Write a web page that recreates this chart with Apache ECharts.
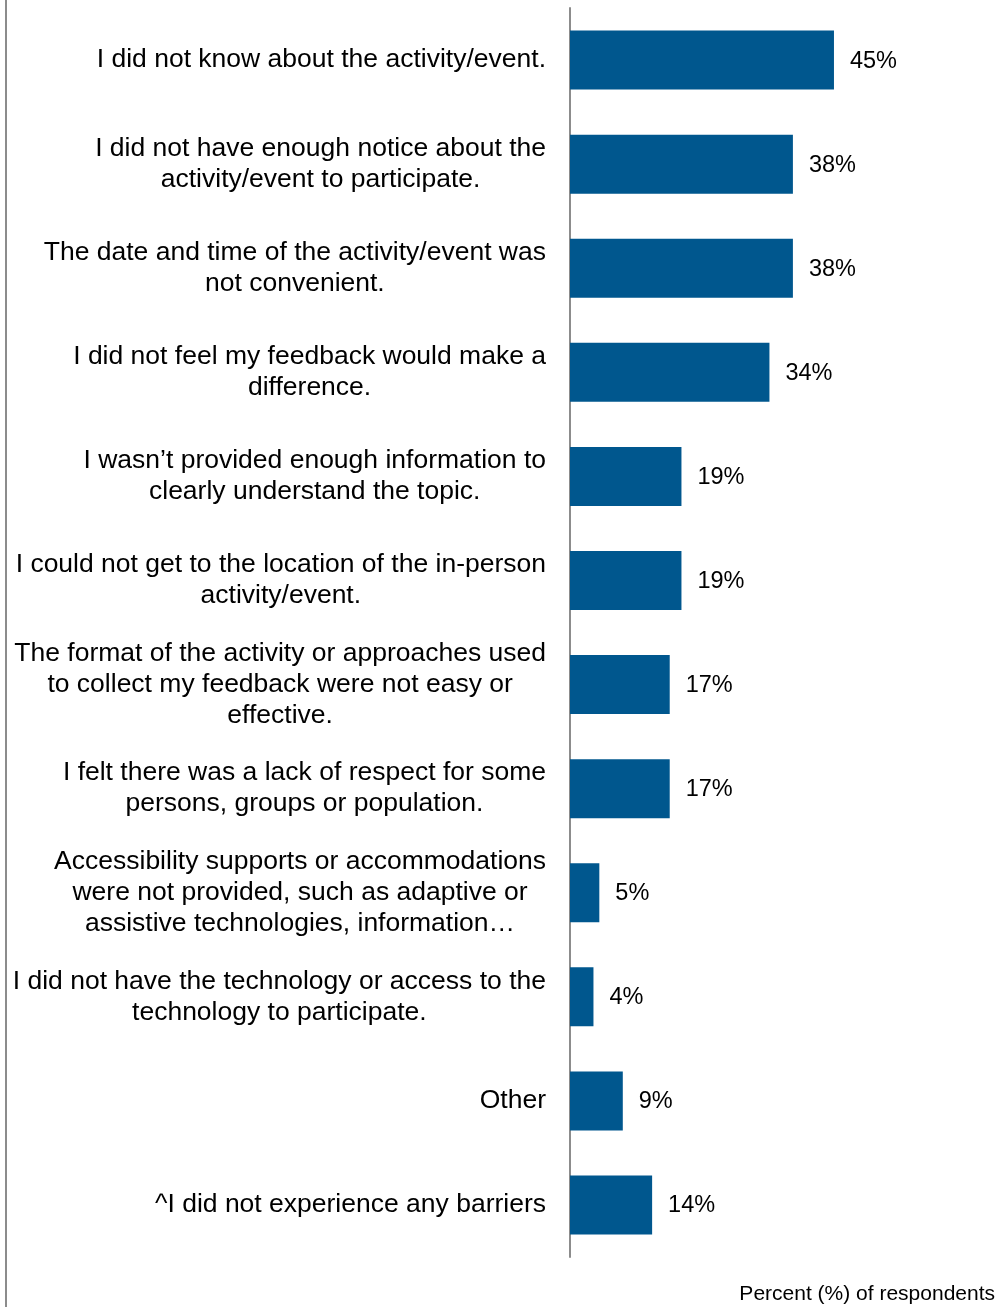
<!DOCTYPE html>
<html>
<head>
<meta charset="utf-8">
<style>
  html, body { margin: 0; padding: 0; background: #fff; }
  #chart { width: 1000px; height: 1307px; }
</style>
<script src="https://cdn.jsdelivr.net/npm/echarts@6/dist/echarts.min.js"></script>
</head>
<body>
<div id="chart"></div>
<script>
// Reasons for not participating, top to bottom
const categories = [
  "I did not know about the activity/event.",
  "I did not have enough notice about the\nactivity/event to participate.",
  "The date and time of the activity/event was\nnot convenient.",
  "I did not feel my feedback would make a\ndifference.",
  "I wasn\u2019t provided enough information to\nclearly understand the topic.",
  "I could not get to the location of the in-person\nactivity/event.",
  "The format of the activity or approaches used\nto collect my feedback were not easy or\neffective.",
  "I felt there was a lack of respect for some\npersons, groups or population.",
  "Accessibility supports or accommodations\nwere not provided, such as adaptive or\nassistive technologies, information\u2026",
  "I did not have the technology or access to the\ntechnology to participate.",
  "Other",
  "^I did not experience any barriers"
];

// Percent of respondents
const percents = [45, 38, 38, 34, 19, 19, 17, 17, 5, 4, 9, 14];

const axisTitle = "Percent (%) of respondents";

const FONT = 'Liberation Sans, Arial, sans-serif';
const chart = echarts.init(document.getElementById('chart'), null, { renderer: 'canvas' });

chart.setOption({
  animation: false,
  textStyle: { fontFamily: FONT },
  grid: { left: 570, right: 136.7, top: 8, bottom: 50, containLabel: false },
  xAxis: {
    type: 'value',
    min: 0,
    max: 50,
    show: false
  },
  yAxis: {
    type: 'category',
    data: categories,
    inverse: true,
    axisLine: { show: true, lineStyle: { color: '#8c8c8c', width: 2 } },
    axisTick: { show: false },
    splitLine: { show: false },
    axisLabel: {
      color: '#000',
      fontSize: 26.5,
      lineHeight: 31,
      align: 'right',
      margin: 24,
      // block is right-aligned, each line centred inside it
      formatter: function (v) {
        return v.split('\n').map(function (s) { return '{c|' + s + '}'; }).join('\n');
      },
      rich: {
        c: { align: 'center', fontSize: 26.5, lineHeight: 31, color: '#000', fontFamily: FONT }
      }
    }
  },
  series: [{
    type: 'bar',
    data: percents,
    barWidth: 59,
    itemStyle: { color: '#00578E' },
    label: {
      show: true,
      position: 'right',
      distance: 16,
      color: '#000',
      fontSize: 23.5,
      offset: [0, 1],
      formatter: function (p) { return p.value + '%'; }
    }
  }],
  graphic: [
    {
      type: 'line',
      shape: { x1: 6, y1: 0, x2: 6, y2: 1307 },
      style: { stroke: '#8c8c8c', lineWidth: 2 }
    },
    {
      type: 'text',
      right: 5,
      top: 1284,
      style: {
        text: axisTitle,
        fill: '#000',
        font: '21px ' + FONT
      }
    }
  ]
});
</script>
</body>
</html>
